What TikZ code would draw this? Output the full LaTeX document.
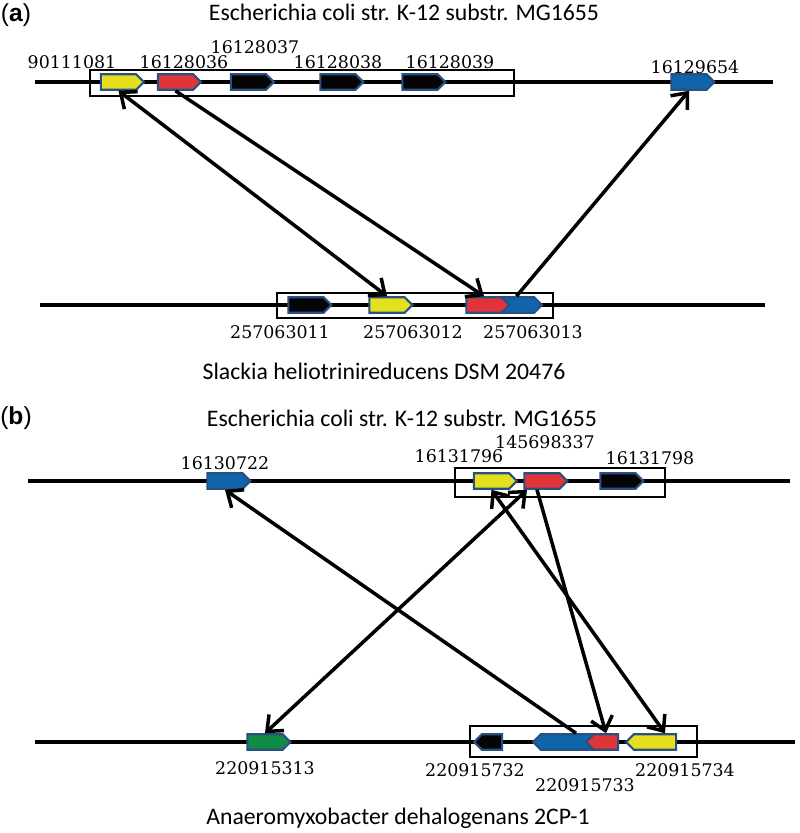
\documentclass[tikz,border=0pt]{standalone}
\usepackage{fontspec}
\setmainfont{Carlito}
\newfontfamily\numfont{DejaVu Serif}
\newfontfamily\tagfont{Liberation Sans}
\usepackage{tikz}
\usetikzlibrary{shapes.symbols,arrows.meta}
\definecolor{geneyellow}{RGB}{229,224,30}
\definecolor{genered}{RGB}{224,52,56}
\definecolor{geneblack}{RGB}{5,5,5}
\definecolor{geneblue}{RGB}{15,100,170}
\definecolor{genegreen}{RGB}{15,140,70}
\definecolor{geneedge}{RGB}{40,80,130}

\begin{document}
\begin{tikzpicture}[x=0.02cm,y=-0.02cm,
  gene/.style={signal, signal to=east, draw=geneedge, line width=1.2pt,
    inner sep=0pt, minimum width=0.86cm, minimum height=0.31cm},
  back/.style={signal to=west},
  num/.style={font=\numfont\fontsize{9.9}{11}\selectfont, inner sep=0pt},
  title/.style={font=\fontsize{13.5}{15}\selectfont, inner sep=0pt},
  tag/.style={font=\tagfont\fontsize{14}{16}\selectfont, inner sep=0pt},
  chrom/.style={line width=2.1pt},
  frame/.style={line width=1.6pt},
  link/.style={line width=2pt, -{Straight Barb[length=2.6mm,width=4.4mm]}},
  link2/.style={line width=2pt, {Straight Barb[length=2.6mm,width=4.4mm]}-{Straight Barb[length=2.6mm,width=4.4mm]}}]
  \useasboundingbox (0,0) rectangle (800,833);

  % panel (a)
  \node[tag] (taga) at (16,15) {(\textbf{a})};
  \node[title] (orga1) at (404,12) {Escherichia coli str. K-12 substr. MG1655};
  \draw[chrom] (35,82) -- (773,82);
  \draw[chrom] (40,305) -- (765,305);
  \draw[frame] (90,70) rectangle (514,96);
  \draw[frame] (277,293) rectangle (553,318);

  \foreach \n/\x/\c in {ty/118.5/geneyellow, tr/175.5/genered, tk1/248.5/geneblack,
                        tk2/338/geneblack, tk3/420/geneblack, tb/689/geneblue}
    \node[gene, fill=\c] (a\n) at (\x,82) {};
  \foreach \n/\x/\c in {bk/306/geneblack, by/387/geneyellow, bb/516.5/geneblue, br/484/genered}
    \node[gene, fill=\c] (a\n) at (\x,305) {};

  \foreach \n/\x/\y/\t in {1/72/62/90111081, 2/184/62/16128036, 3/255/47/16128037,
                           4/338/62/16128038, 5/450/62/16128039, 6/695/67/16129654,
                           7/280/332/257063011, 8/413/332/257063012, 9/533/332/257063013}
    \node[num] (al\n) at (\x,\y) {\t};
  \node[title] (orga2) at (384,371) {Slackia heliotrinireducens DSM 20476};

  \draw[link2] (aty.south) -- (aby.north);
  \draw[link] (atr.south) -- (abr.north);
  \draw[link] (abb.north) -- (atb.south);

  % panel (b)
  \node[tag] (tagb) at (16,418) {(\textbf{b})};
  \node[title] (orgb1) at (402,418) {Escherichia coli str. K-12 substr. MG1655};
  \draw[chrom] (28,481) -- (790,481);
  \draw[chrom] (35,742) -- (795,742);
  \draw[frame] (455,468) rectangle (665,497);
  \draw[frame] (470,726) rectangle (697,757);

  \foreach \n/\x/\c in {tb/225/geneblue, ty/491.5/geneyellow, tr/542/genered, tk/618/geneblack}
    \node[gene, fill=\c] (b\n) at (\x,481) {};
  \node[gene, fill=genegreen] (bg) at (265,742) {};
  \node[gene, back, fill=geneblack, minimum width=0.56cm] (bk) at (492,742) {};
  \node[gene, back, fill=geneblue, minimum width=1.56cm] (bb) at (576,742) {};
  \node[gene, back, fill=genered, minimum width=0.64cm] (br) at (606,742) {};
  \node[gene, back, fill=geneyellow, minimum width=1.0cm] (by) at (655,742) {};

  \foreach \n/\x/\y/\t in {1/225/463/16130722, 2/459/456/16131796, 3/545/442/145698337,
                           4/650/458/16131798, 5/265/768/220915313, 6/475/770/220915732,
                           7/585/785/220915733, 8/685/770/220915734}
    \node[num] (bl\n) at (\x,\y) {\t};
  \node[title] (orgb2) at (398,818) {Anaeromyxobacter dehalogenans 2CP-1};

  \draw[link] (bb.north) -- (btb.south);
  \draw[link2] (bg.north) -- ([xshift=-0.3cm]btr.south);
  \draw[link2] (bty.south) -- ([xshift=0.2cm]by.north);
  \draw[link] ([xshift=-0.1cm]btr.south) -- (br.north);
\end{tikzpicture}
\end{document}
